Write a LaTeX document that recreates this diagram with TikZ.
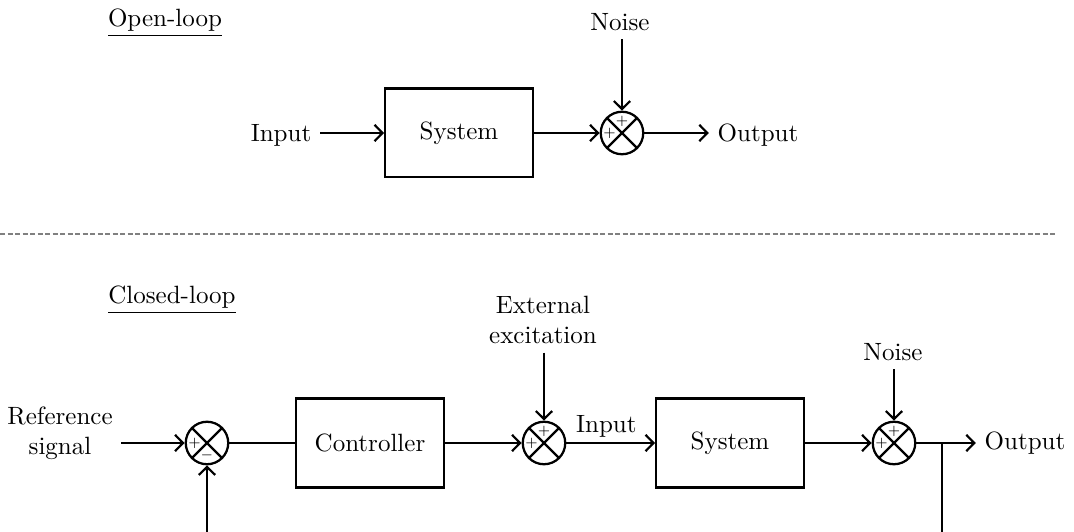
\documentclass[tikz,border=0pt]{standalone}
\usetikzlibrary{arrows.meta}
\begin{document}
\begin{tikzpicture}[x=0.4pt,y=-0.4pt,
  blk/.style={draw, line width=0.9pt, minimum width=59pt, minimum height=35.5pt, inner sep=0pt},
  sumj/.style={draw, circle, line width=0.9pt, minimum size=17pt, inner sep=0pt,
    path picture={\draw[line width=0.9pt] (path picture bounding box.north west) -- (path picture bounding box.south east)
      (path picture bounding box.north east) -- (path picture bounding box.south west);}},
  sgn/.style={font=\tiny, inner sep=0pt},
  arr/.style={-{Straight Barb[length=3.2pt,width=6.5pt]}, line width=0.9pt},
  ln/.style={line width=0.9pt},
  lbl/.style={inner sep=3.33pt},
  sep/.style={draw=gray, line width=0.5pt, dash pattern=on 2pt off 1pt}
]
\useasboundingbox (0,0) rectangle (1074,532);

% ---------- Open-loop ----------
\node[lbl, anchor=base] (olt) at (165,27) {\underline{Open-loop}};
\node[lbl] (in1) at (281,135) {Input};
\node[blk] (sys1) at (459,133) {System};
\node[sumj] (s0) at (622,133) {};
\node[sgn] (s0l) at ([xshift=-5pt]s0.center) {$+$};
\node[sgn] (s0t) at ([yshift=4.6pt]s0.center) {$+$};
\node[lbl] (noise1) at (620,22) {Noise};
\node[lbl] (out1) at (758,135) {Output};

\draw[arr] (in1.east |- sys1.west) -- (sys1.west);
\draw[arr] (sys1.east) -- (s0.west);
\draw[arr] (noise1.south -| s0.north) -- (s0.north);
\draw[arr] (s0.east) -- (out1.west |- s0.east);

% ---------- separator ----------
\coordinate (sepl) at (0,234);
\coordinate (sepr) at (1055,234);
\draw[sep] (sepl) -- (sepr);

% ---------- Closed-loop ----------
\node[lbl, anchor=base] (clt) at (172,304) {\underline{Closed-loop}};
\node[lbl, align=center] (ref) at (60,433) {Reference\\signal};
\node[sumj] (s1) at (207,443) {};
\node[sgn] (s1l) at ([xshift=-5pt]s1.center) {$+$};
\node[sgn] (s1b) at ([yshift=-5pt]s1.center) {$-$};
\node[blk] (ctrl) at (370,443) {Controller};
\node[sumj] (s2) at (544,443) {};
\node[sgn] (s2l) at ([xshift=-5pt]s2.center) {$+$};
\node[sgn] (s2t) at ([yshift=4.6pt]s2.center) {$+$};
\node[lbl, align=center] (ext) at (543,320) {External\\excitation};
\node[blk] (sys2) at (730,443) {System};
\node[sumj] (s3) at (894,443) {};
\node[sgn] (s3l) at ([xshift=-5pt]s3.center) {$+$};
\node[sgn] (s3t) at ([yshift=4.6pt]s3.center) {$+$};
\node[lbl] (noise2) at (893,352) {Noise};
\node[lbl] (out2) at (1025,443) {Output};
\coordinate (br) at (942,443);
\coordinate (fb1) at (207,532);
\coordinate (fb2) at (942,532);

\draw[arr] (ref.east |- s1.west) -- (s1.west);
\draw[ln] (s1.east) -- (ctrl.west);
\draw[arr] (ctrl.east) -- (s2.west);
\draw[arr] (ext.south -| s2.north) -- (s2.north);
\draw[arr] (s2.east) -- node[pos=0.45, above, inner sep=2pt] (inlbl) {Input} (sys2.west);
\draw[arr] (sys2.east) -- (s3.west);
\draw[arr] (noise2.south -| s3.north) -- (s3.north);
\draw[arr] (s3.east) -- (out2.west);
\draw[ln] (br) -- (fb2);
\draw[arr] (fb1) -- (s1.south);
\end{tikzpicture}
\end{document}
